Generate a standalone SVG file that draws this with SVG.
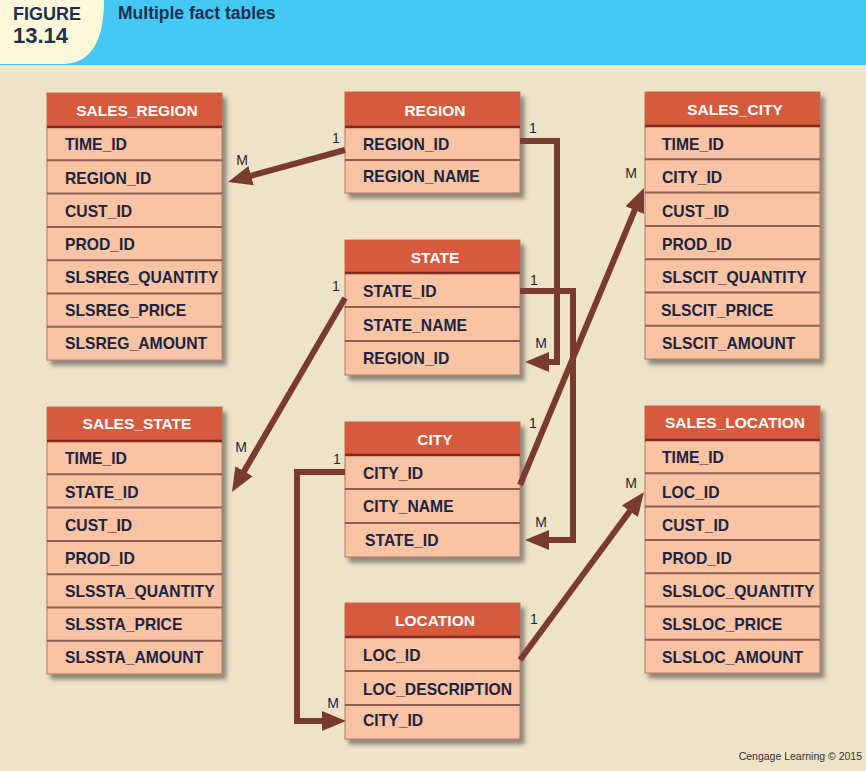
<svg xmlns="http://www.w3.org/2000/svg" width="866" height="771" viewBox="0 0 866 771">
<defs>
<style>
.bg{fill:#eee3c7}
.box{fill:#fac3a4;stroke:#b07a66;stroke-width:1;filter:url(#sh)}
.hdr{fill:#d55a3e}
.hline{stroke:#7e2a1e;stroke-width:2.5}
.sep{stroke:#8d5e4f;stroke-width:2}
.ht{font-family:"Liberation Sans",Arial,sans-serif;font-weight:bold;font-size:15.5px;fill:#ffffff;text-anchor:middle}
.rt{font-family:"Liberation Sans",Arial,sans-serif;font-weight:bold;font-size:15.7px;fill:#1c2440}
.lbl{font-family:"Liberation Sans",Arial,sans-serif;font-size:14px;fill:#1c2440;text-anchor:middle}
.con{fill:none;stroke:#7a3b2e;stroke-width:6;stroke-linejoin:miter;marker-end:url(#arr)}
.title{font-family:"Liberation Sans",Arial,sans-serif;font-weight:bold;fill:#1d3050}
</style>
<filter id="sh" x="-10%" y="-10%" width="125%" height="125%">
<feDropShadow dx="4" dy="5" stdDeviation="2" flood-color="#4a4a4a" flood-opacity="0.6"/>
</filter>
<marker id="arr" markerUnits="userSpaceOnUse" markerWidth="24" markerHeight="20" viewBox="0 0 24 20" refX="15" refY="10" orient="auto">
<path d="M0,0 L24,10 L0,20 z" fill="#7a3b2e"/>
</marker>
</defs>
<rect class="bg" x="0" y="0" width="866" height="771"/>
<g id="title">
<rect x="0" y="0" width="866" height="65" fill="#45c8f3"/>
<path d="M0,0 H104 Q104,64 62,64 H0 Z" fill="#fdf8d9"/>
<text class="title" x="13" y="20" font-size="18">FIGURE</text>
<text class="title" x="13" y="43" font-size="22">13.14</text>
<text class="title" x="118" y="19" font-size="17.5">Multiple fact tables</text>
</g>

<g id="SALES_REGION">
<rect class="box" x="47" y="93" width="175" height="267"/>
<rect class="hdr" x="47" y="93" width="175" height="34"/>
<line class="hline" x1="47" y1="127" x2="222" y2="127"/>
<line class="sep" x1="47" y1="160.3" x2="222" y2="160.3"/>
<line class="sep" x1="47" y1="193.6" x2="222" y2="193.6"/>
<line class="sep" x1="47" y1="226.9" x2="222" y2="226.9"/>
<line class="sep" x1="47" y1="260.2" x2="222" y2="260.2"/>
<line class="sep" x1="47" y1="293.5" x2="222" y2="293.5"/>
<line class="sep" x1="47" y1="326.8" x2="222" y2="326.8"/>
<text class="ht" x="137" y="116">SALES_REGION</text>
<text class="rt" x="65" y="150">TIME_ID</text>
<text class="rt" x="65" y="183.5">REGION_ID</text>
<text class="rt" x="65" y="216.5">CUST_ID</text>
<text class="rt" x="65" y="250">PROD_ID</text>
<text class="rt" x="65" y="283">SLSREG_QUANTITY</text>
<text class="rt" x="65" y="316">SLSREG_PRICE</text>
<text class="rt" x="65" y="349">SLSREG_AMOUNT</text>
</g>

<g id="SALES_STATE">
<rect class="box" x="47" y="407" width="175" height="267"/>
<rect class="hdr" x="47" y="407" width="175" height="34"/>
<line class="hline" x1="47" y1="441" x2="222" y2="441"/>
<line class="sep" x1="47" y1="474.3" x2="222" y2="474.3"/>
<line class="sep" x1="47" y1="507.6" x2="222" y2="507.6"/>
<line class="sep" x1="47" y1="540.9" x2="222" y2="540.9"/>
<line class="sep" x1="47" y1="574.2" x2="222" y2="574.2"/>
<line class="sep" x1="47" y1="607.5" x2="222" y2="607.5"/>
<line class="sep" x1="47" y1="640.8" x2="222" y2="640.8"/>
<text class="ht" x="137" y="429">SALES_STATE</text>
<text class="rt" x="65" y="464">TIME_ID</text>
<text class="rt" x="65" y="497.5">STATE_ID</text>
<text class="rt" x="65" y="530.5">CUST_ID</text>
<text class="rt" x="65" y="564">PROD_ID</text>
<text class="rt" x="65" y="597">SLSSTA_QUANTITY</text>
<text class="rt" x="65" y="630">SLSSTA_PRICE</text>
<text class="rt" x="65" y="663">SLSSTA_AMOUNT</text>
</g>

<g id="REGION">
<rect class="box" x="345" y="92" width="175" height="101"/>
<rect class="hdr" x="345" y="92" width="175" height="35"/>
<line class="hline" x1="345" y1="127" x2="520" y2="127"/>
<line class="sep" x1="345" y1="160" x2="520" y2="160"/>
<text class="ht" x="435" y="116">REGION</text>
<text class="rt" x="363" y="150">REGION_ID</text>
<text class="rt" x="363" y="182">REGION_NAME</text>
</g>

<g id="STATE">
<rect class="box" x="345" y="240" width="175" height="135"/>
<rect class="hdr" x="345" y="240" width="175" height="33"/>
<line class="hline" x1="345" y1="273" x2="520" y2="273"/>
<line class="sep" x1="345" y1="307" x2="520" y2="307"/>
<line class="sep" x1="345" y1="341" x2="520" y2="341"/>
<text class="ht" x="435" y="263">STATE</text>
<text class="rt" x="363" y="297">STATE_ID</text>
<text class="rt" x="363" y="330.5">STATE_NAME</text>
<text class="rt" x="363" y="363.5">REGION_ID</text>
</g>

<g id="CITY">
<rect class="box" x="345" y="422" width="175" height="135"/>
<rect class="hdr" x="345" y="422" width="175" height="33"/>
<line class="hline" x1="345" y1="455" x2="520" y2="455"/>
<line class="sep" x1="345" y1="489" x2="520" y2="489"/>
<line class="sep" x1="345" y1="523" x2="520" y2="523"/>
<text class="ht" x="435" y="445">CITY</text>
<text class="rt" x="363" y="478.5">CITY_ID</text>
<text class="rt" x="363" y="512">CITY_NAME</text>
<text class="rt" x="365" y="545.5">STATE_ID</text>
</g>

<g id="LOCATION">
<rect class="box" x="345" y="603" width="175" height="136"/>
<rect class="hdr" x="345" y="603" width="175" height="34"/>
<line class="hline" x1="345" y1="637" x2="520" y2="637"/>
<line class="sep" x1="345" y1="671" x2="520" y2="671"/>
<line class="sep" x1="345" y1="705" x2="520" y2="705"/>
<text class="ht" x="435" y="626">LOCATION</text>
<text class="rt" x="363" y="660.5">LOC_ID</text>
<text class="rt" x="363" y="695">LOC_DESCRIPTION</text>
<text class="rt" x="363" y="726">CITY_ID</text>
</g>

<g id="SALES_CITY">
<rect class="box" x="645" y="92" width="175" height="267"/>
<rect class="hdr" x="645" y="92" width="175" height="34"/>
<line class="hline" x1="645" y1="126" x2="820" y2="126"/>
<line class="sep" x1="645" y1="159.3" x2="820" y2="159.3"/>
<line class="sep" x1="645" y1="192.6" x2="820" y2="192.6"/>
<line class="sep" x1="645" y1="225.9" x2="820" y2="225.9"/>
<line class="sep" x1="645" y1="259.2" x2="820" y2="259.2"/>
<line class="sep" x1="645" y1="292.5" x2="820" y2="292.5"/>
<line class="sep" x1="645" y1="325.8" x2="820" y2="325.8"/>
<text class="ht" x="735" y="115">SALES_CITY</text>
<text class="rt" x="662" y="149.5">TIME_ID</text>
<text class="rt" x="662" y="182.5">CITY_ID</text>
<text class="rt" x="662" y="217">CUST_ID</text>
<text class="rt" x="662" y="250">PROD_ID</text>
<text class="rt" x="662" y="283">SLSCIT_QUANTITY</text>
<text class="rt" x="661" y="315.5">SLSCIT_PRICE</text>
<text class="rt" x="662" y="348.5">SLSCIT_AMOUNT</text>
</g>

<g id="SALES_LOCATION">
<rect class="box" x="645" y="406" width="175" height="267"/>
<rect class="hdr" x="645" y="406" width="175" height="34"/>
<line class="hline" x1="645" y1="440" x2="820" y2="440"/>
<line class="sep" x1="645" y1="473.3" x2="820" y2="473.3"/>
<line class="sep" x1="645" y1="506.6" x2="820" y2="506.6"/>
<line class="sep" x1="645" y1="539.9" x2="820" y2="539.9"/>
<line class="sep" x1="645" y1="573.2" x2="820" y2="573.2"/>
<line class="sep" x1="645" y1="606.5" x2="820" y2="606.5"/>
<line class="sep" x1="645" y1="639.8" x2="820" y2="639.8"/>
<text class="ht" x="735" y="428">SALES_LOCATION</text>
<text class="rt" x="662" y="463">TIME_ID</text>
<text class="rt" x="662" y="498">LOC_ID</text>
<text class="rt" x="662" y="531">CUST_ID</text>
<text class="rt" x="662" y="564">PROD_ID</text>
<text class="rt" x="662" y="597">SLSLOC_QUANTITY</text>
<text class="rt" x="662" y="630">SLSLOC_PRICE</text>
<text class="rt" x="662" y="662.5">SLSLOC_AMOUNT</text>
</g>

<g id="connectors">
<path class="con" d="M345,150 L236.7,179.6"/>
<path class="con" d="M520,141 H557 V362 H534"/>
<path class="con" d="M345,298 L236.5,484.2"/>
<path class="con" d="M520,291 H573 V540 H534"/>
<path class="con" d="M520,485 L640.5,196.3"/>
<path class="con" d="M345,472 H297 V721 H337"/>
<path class="con" d="M520,660 L638.7,499.2"/>
<text class="lbl" x="336" y="143">1</text>
<text class="lbl" x="242" y="165">M</text>
<text class="lbl" x="533" y="133">1</text>
<text class="lbl" x="541" y="348">M</text>
<text class="lbl" x="336" y="291">1</text>
<text class="lbl" x="241" y="452">M</text>
<text class="lbl" x="534" y="285">1</text>
<text class="lbl" x="541" y="527">M</text>
<text class="lbl" x="533" y="428">1</text>
<text class="lbl" x="631" y="178">M</text>
<text class="lbl" x="337" y="464">1</text>
<text class="lbl" x="333" y="708">M</text>
<text class="lbl" x="534" y="624">1</text>
<text class="lbl" x="631" y="488">M</text>
</g>

<text x="862" y="760" font-family="'Liberation Sans',Arial,sans-serif" font-size="10.5" fill="#333333" text-anchor="end">Cengage Learning © 2015</text>
</svg>
